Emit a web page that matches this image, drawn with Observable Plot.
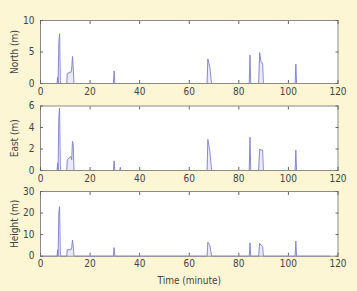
<!DOCTYPE html>
<html><head><meta charset="utf-8">
<script src="https://cdn.jsdelivr.net/npm/d3@7"></script>
<script src="https://cdn.jsdelivr.net/npm/@observablehq/plot@0.6"></script>
<style>
html,body{margin:0;padding:0;background:#fcf6d4;}
#wrap{width:357px;height:291px;overflow:hidden;}
#wrap svg{display:block;background:transparent;}
</style></head>
<body><div id="wrap"></div>
<script>
// time in minutes
const time  = [0, 6.7, 6.9, 7.1, 7.4, 7.7, 8.0, 8.2, 10.6, 10.8, 12.3, 12.6, 12.9, 13.2, 13.5, 29.4, 29.7, 30.0, 32.0, 32.2, 32.4, 67.2, 67.5, 68.3, 68.9, 69.1, 84.2, 84.5, 84.8, 88.0, 88.4, 89.0, 89.6, 89.9, 102.7, 103.0, 103.3, 116.5];
const north = [0, 0, 1.0, 0, 6.5, 7.9, 0.5, 0, 0, 1.6, 1.8, 2.3, 4.3, 2.6, 0, 0, 2.0, 0, 0, 0, 0, 0, 3.9, 2.6, 0.3, 0, 0, 4.5, 0, 0, 4.9, 3.3, 3.2, 0, 0, 3.1, 0, 0];
const east  = [0, 0, 0.7, 0, 5.0, 5.8, 0.4, 0, 0, 1.0, 1.3, 1.0, 2.7, 2.5, 0, 0, 0.9, 0, 0, 0.3, 0, 0, 2.9, 1.8, 0.3, 0, 0, 3.1, 0, 0, 2.0, 1.9, 1.9, 0, 0, 1.9, 0, 0];
const height= [0, 0, 3, 0, 20, 23, 1, 0, 0, 3, 3, 4, 7.5, 5, 0, 0, 4, 0, 0, 0, 0, 0, 6.5, 5, 1, 0, 0, 6.2, 0, 0, 6, 5, 4.5, 0, 0, 7, 0, 0];
const xTicks = [0, 20, 40, 60, 80, 100, 120];
const panels = [
  {label: "North (m)", values: north, domain: [0, 10], ticks: [0, 5, 10], h: 100, mt: 20, mb: 17},
  {label: "East (m)", values: east, domain: [0, 6], ticks: [0, 2, 4, 6], h: 86, mt: 5.5, mb: 16},
  {label: "Height (m)", values: height, domain: [0, 30], ticks: [0, 10, 20, 30], h: 105, mt: 5, mb: 35.3}
];
const font = "'DejaVu Sans Condensed','Liberation Sans Narrow','DejaVu Sans',sans-serif";
const wrap = document.getElementById("wrap");
panels.forEach((p, i) => {
  const data = time.map((t, k) => ({t, v: p.values[k]}));
  const last = i === panels.length - 1;
  const chart = Plot.plot({
    width: 357, height: p.h,
    marginLeft: 40, marginRight: 19.5, marginTop: p.mt, marginBottom: p.mb,
    style: {fontFamily: font, fontSize: "10px", color: "#444", background: "transparent", overflow: "visible"},
    x: {domain: [0, 120]},
    y: {domain: p.domain},
    marks: [
      Plot.frame({fill: "white", stroke: "none"}),
      Plot.areaY(data, {x: "t", y: "v", fill: "#d2d2f0", fillOpacity: 0.45}),
      Plot.line(data, {x: "t", y: "v", stroke: "#7e7ec8", strokeWidth: 0.9}),
      Plot.frame({stroke: "#8a8a8a", strokeWidth: 1}),
      Plot.axisX(xTicks, {anchor: "bottom", tickSize: -3, tickPadding: 7, stroke: "#666", fill: "#444", label: last ? "Time (minute)" : null, labelAnchor: "center", labelArrow: "none", labelOffset: 28}),
      Plot.axisX(xTicks, {anchor: "top", tickSize: -3, stroke: "#666", text: null, label: null}),
      Plot.axisY(p.ticks, {anchor: "left", tickSize: -3, tickPadding: 9, stroke: "#666", fill: "#444", label: p.label, labelAnchor: "center", labelArrow: "none", labelOffset: 30}),
      Plot.axisY(p.ticks, {anchor: "right", tickSize: -3, stroke: "#666", text: null, label: null})
    ]
  });
  wrap.appendChild(chart);
});
</script></body></html>
